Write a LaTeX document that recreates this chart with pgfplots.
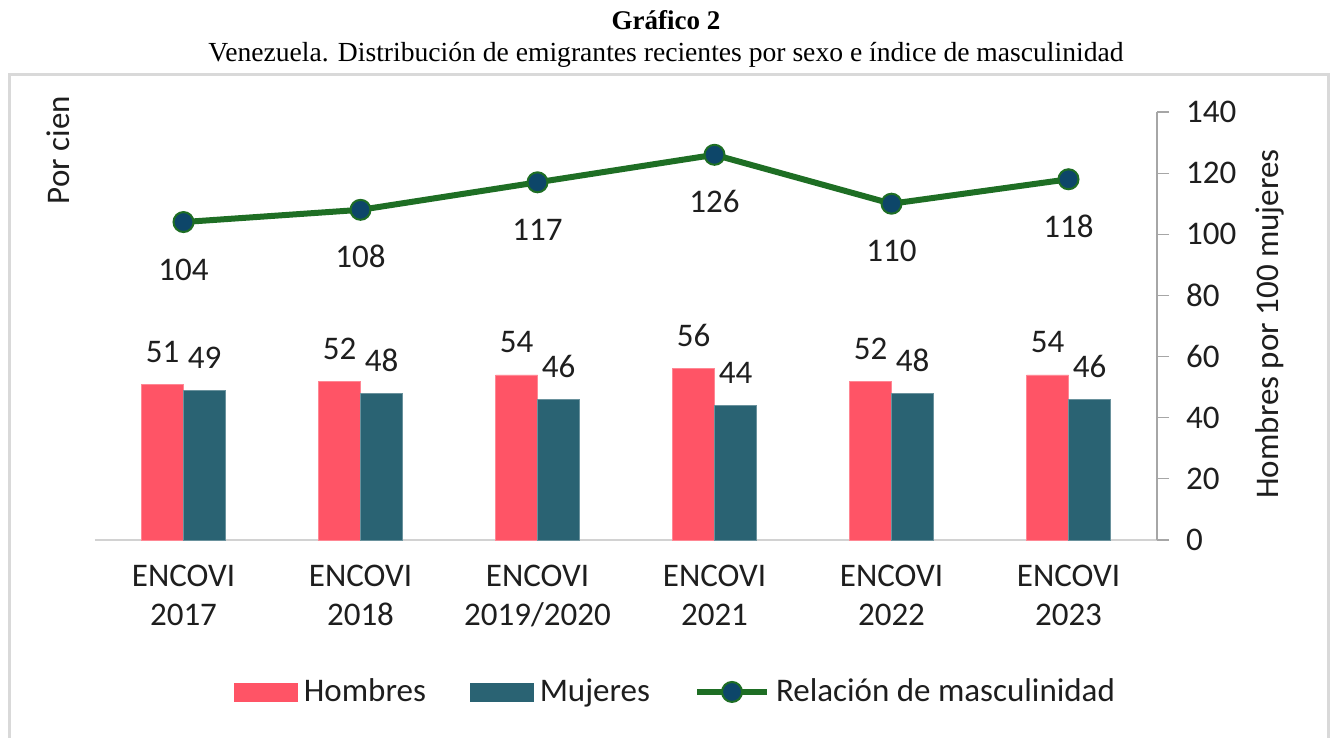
\documentclass[border=0pt]{standalone}
\usepackage{fontspec}
\setmainfont{Carlito}
\newfontfamily\titlefont{Liberation Serif}
\usepackage{pgfplots}
\pgfplotsset{compat=1.18}
\definecolor{hombres}{RGB}{255,84,102}
\definecolor{mujeres}{RGB}{42,99,115}
\definecolor{linea}{RGB}{30,110,36}
\definecolor{punto}{RGB}{13,70,105}
\definecolor{texto}{RGB}{30,30,30}

\begin{document}
\begin{tikzpicture}
\useasboundingbox (-47.5pt,-99pt) rectangle (618.5pt,270pt);
\fill[white] (-47.5pt,-99pt) rectangle (618.5pt,270pt);
% marco
\draw[gray!30, line width=1.5pt] (-42.5pt,-110pt) rectangle (616.5pt,232.5pt);
% titulos
\node[font=\titlefont\bfseries\fontsize{13.5}{16}\selectfont] at (285.5pt,260pt) {Gráfico 2};
\node[font=\titlefont\fontsize{13.8}{16}\selectfont] at (285.5pt,242.5pt) {Venezuela. Distribución de emigrantes recientes por sexo e índice de masculinidad};
\node[rotate=90, font=\fontsize{16.5}{19}\selectfont, text=texto] at (-18.5pt,195pt) {Por cien};
\node[rotate=90, font=\fontsize{16.5}{19}\selectfont, text=texto] at (587.5pt,108pt) {Hombres por 100 mujeres};

\begin{axis}[
    at={(0pt,0pt)}, anchor=south west,
    scale only axis, width=531pt, height=214pt,
    xmin=-0.5, xmax=5.5, ymin=0, ymax=140,
    axis x line*=bottom, axis y line*=right,
    x axis line style={-, draw=gray!35, line width=1.2pt},
    y axis line style={-, draw=gray!70, line width=0.6pt},
    xtick={0,1,2,3,4,5},
    xticklabels={{ENCOVI\\2017},{ENCOVI\\2018},{ENCOVI\\2019/2020},{ENCOVI\\2021},{ENCOVI\\2022},{ENCOVI\\2023}},
    xtick style={draw=none},
    xticklabel style={align=center, font=\fontsize{16.5}{19.5}\selectfont, text=texto, yshift=-9pt},
    ytick={0,20,...,140},
    ytick align=outside, major tick length=6pt,
    ytick style={draw=gray!70, line width=0.6pt},
    yticklabel style={anchor=west, xshift=5pt, font=\fontsize{16.5}{19}\selectfont, text=texto},
    /pgf/number format/assume math mode=true,
    clip=false,
    legend columns=3,
    legend style={at={(0.5476,-0.355)}, anchor=center, draw=none, fill=none,
        font=\fontsize{16.5}{19}\selectfont, text=texto,
        /tikz/every odd column/.append style={column sep=1pt},
        /tikz/every even column/.append style={column sep=20pt}},
]
\addplot[ybar, bar width=21pt, bar shift=-10.5pt, fill=hombres, draw=hombres!70!white, line width=0.4pt,
    nodes near coords, nodes near coords style={anchor=base, xshift=-10.5pt, yshift=11pt, font=\fontsize{16.5}{19}\selectfont, text=texto},
    legend image code/.code={\fill[hombres] (0pt,-4.5pt) rectangle (31.5pt,4.5pt);}]
    coordinates {(0,51) (1,52) (2,54) (3,56) (4,52) (5,54)};
\addlegendentry{Hombres}
\addplot[ybar, bar width=21pt, bar shift=10.5pt, fill=mujeres, draw=mujeres!70!white, line width=0.4pt,
    nodes near coords, nodes near coords style={anchor=base, xshift=10.5pt, yshift=11pt, font=\fontsize{16.5}{19}\selectfont, text=texto},
    legend image code/.code={\fill[mujeres] (0pt,-4.5pt) rectangle (31.5pt,4.5pt);}]
    coordinates {(0,49) (1,48) (2,46) (3,44) (4,48) (5,46)};
\addlegendentry{Mujeres}
\addplot[linea, line width=3pt, mark=*, mark size=5pt,
    mark options={fill=punto, draw=linea, line width=1pt},
    nodes near coords, nodes near coords style={anchor=base, yshift=-29pt, font=\fontsize{16.5}{19}\selectfont, text=texto},
    legend image code/.code={\draw[linea, line width=3pt] (0pt,0pt) -- (35pt,0pt);
        \draw[linea, fill=punto, line width=1pt] (17.5pt,0pt) circle (5pt);}]
    coordinates {(0,104) (1,108) (2,117) (3,126) (4,110) (5,118)};
\addlegendentry{Relación de masculinidad}
\end{axis}
\end{tikzpicture}
\end{document}
